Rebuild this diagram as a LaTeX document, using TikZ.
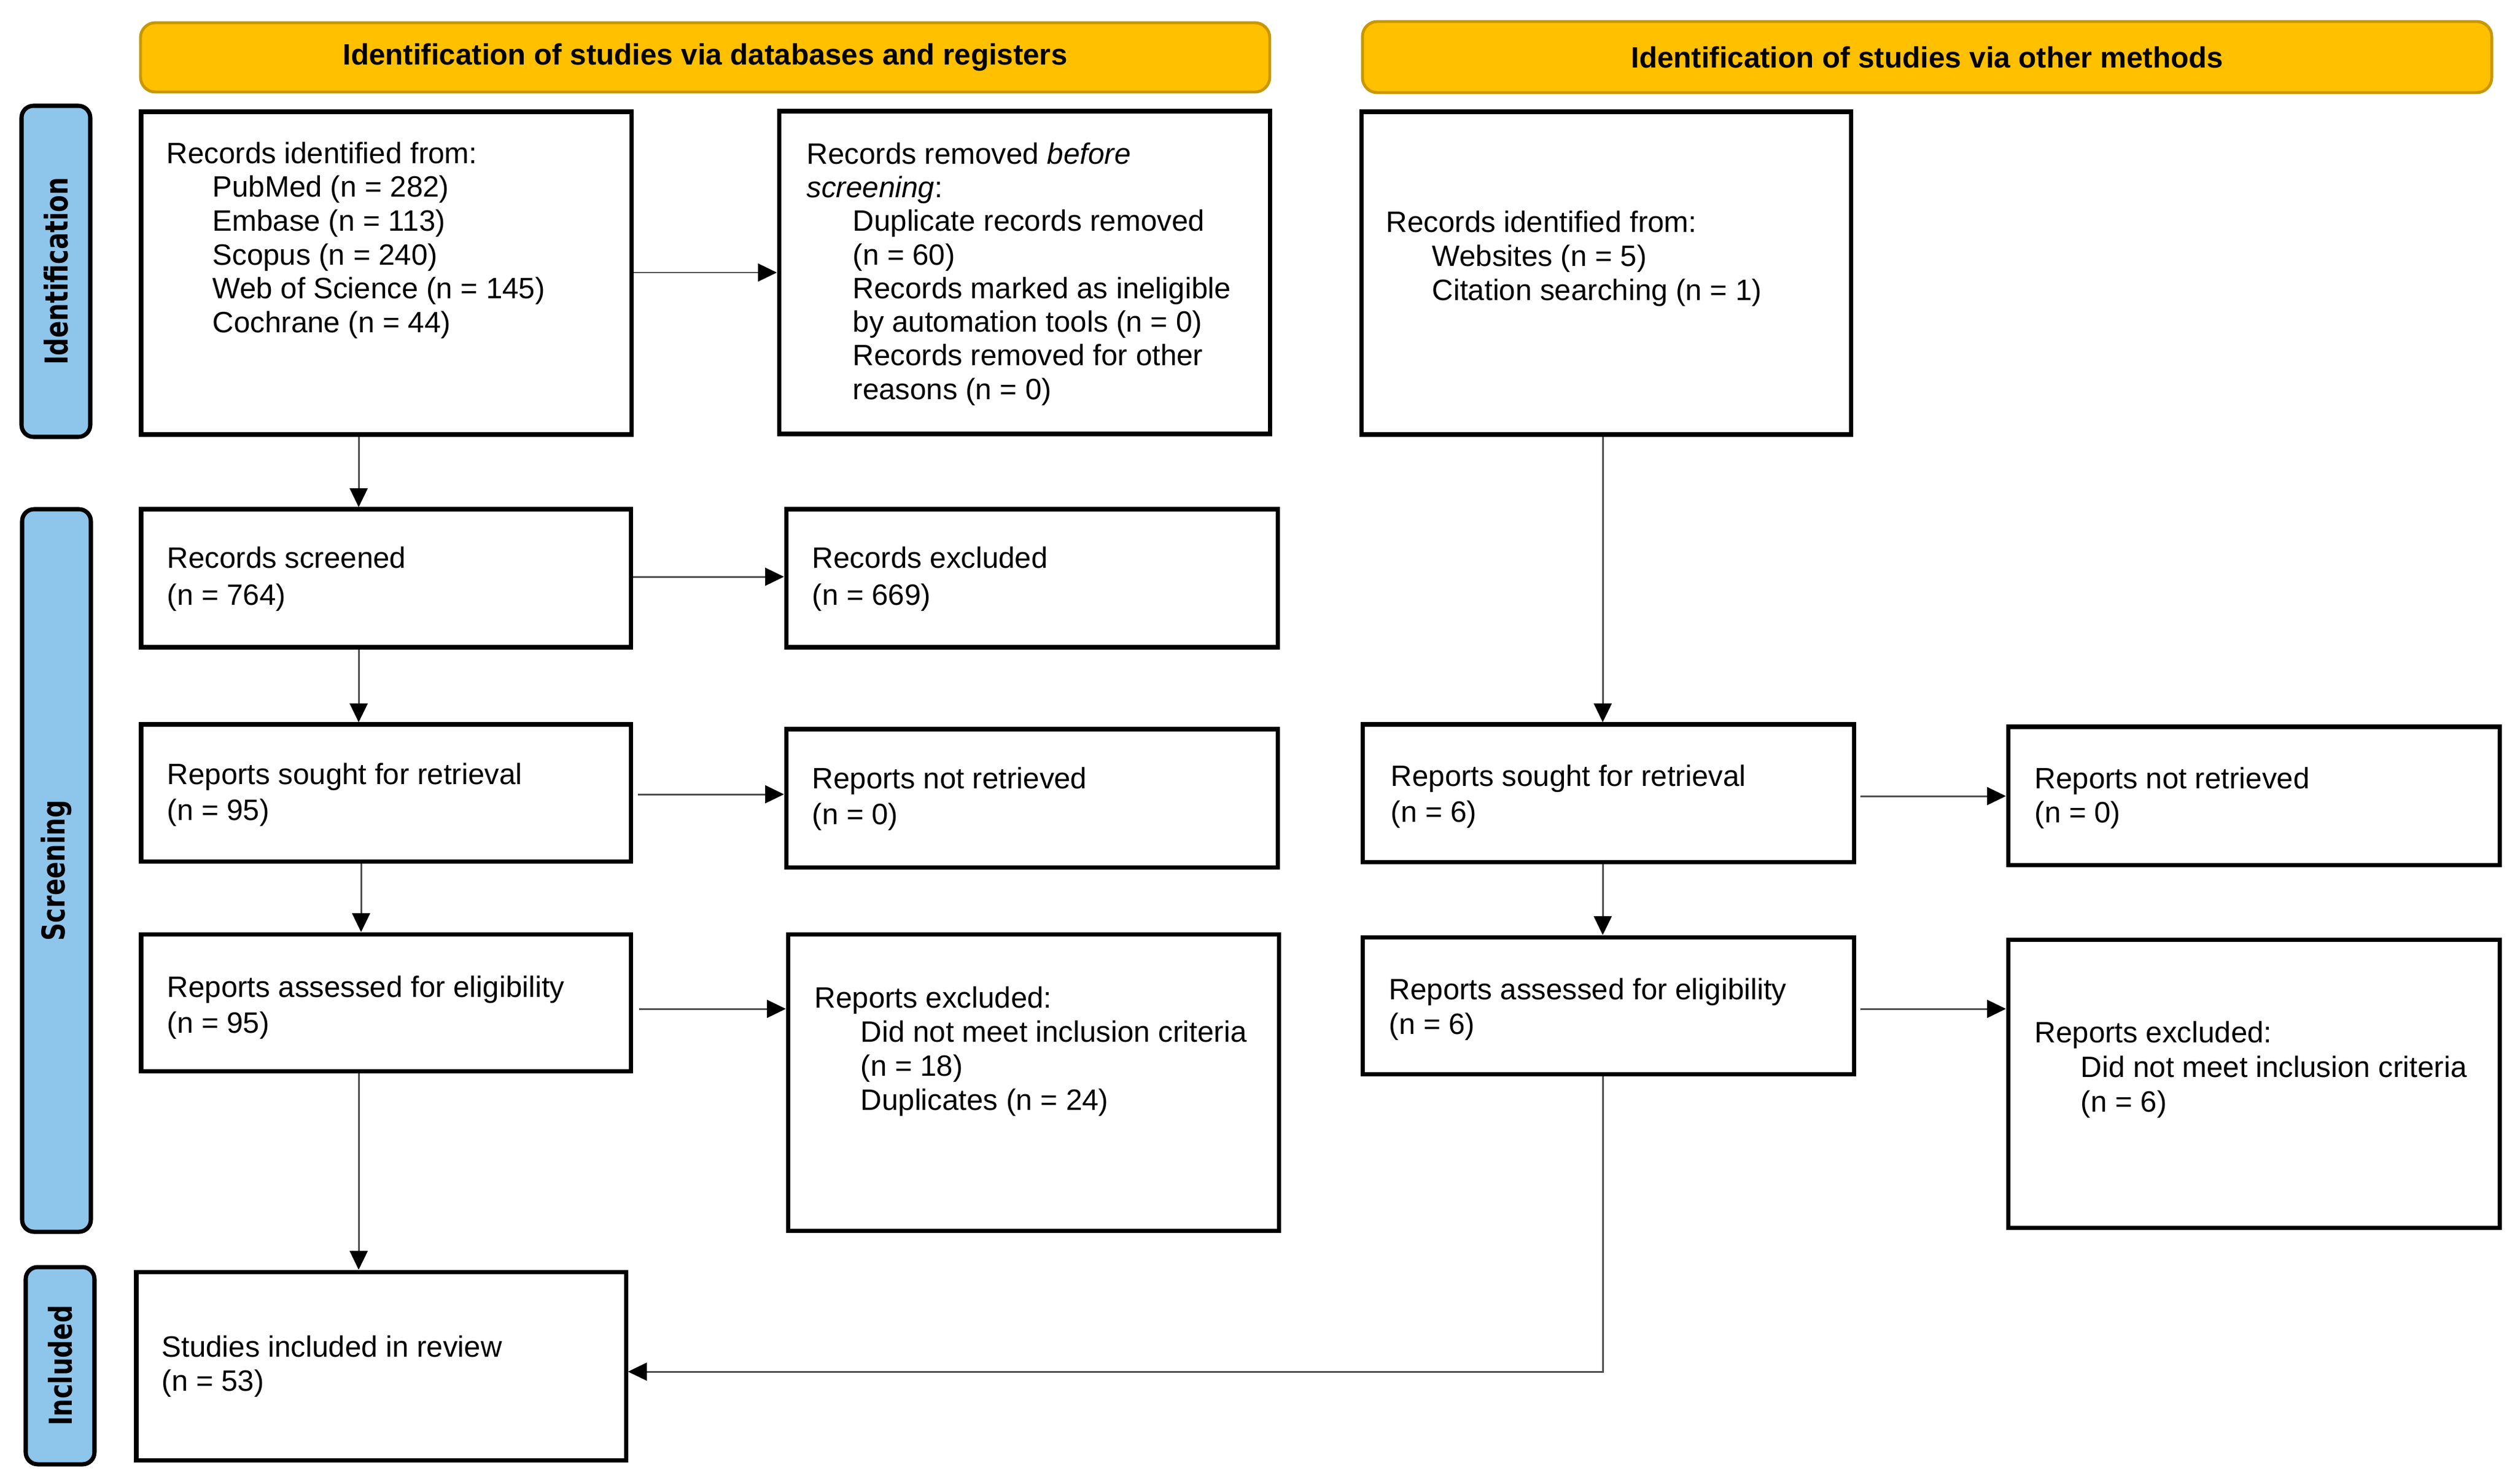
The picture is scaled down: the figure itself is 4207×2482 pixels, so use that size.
\documentclass[tikz,border=0pt]{standalone}
\usepackage{fontspec}
\setmainfont{Liberation Sans}
\newfontfamily\vfont{DejaVu Sans}
\usepackage{graphicx}
\usetikzlibrary{arrows.meta,fit}
\definecolor{gold}{HTML}{FFC000}
\definecolor{goldline}{HTML}{C99700}
\definecolor{sideblue}{HTML}{8EC5EB}
\definecolor{arrowgray}{HTML}{505050}
\newcommand\fsz[1]{\fontsize{14}{#1}\selectfont}
\newcommand\ind{\hspace*{0.77cm}}
\begin{document}
\begin{tikzpicture}[x=0.01cm,y=-0.01cm,
  box/.style={draw=black, line width=2pt, fill=white, inner sep=0pt},
  head/.style={draw=goldline, fill=gold, line width=1.4pt, rounded corners=0.25cm, inner sep=0pt},
  side/.style={draw=black, fill=sideblue, line width=2pt, rounded corners=0.2cm, inner sep=0pt},
  sidetxt/.style={rotate=90, inner sep=0pt, font={\vfont\bfseries\fontsize{15}{18}\selectfont}},
  headtxt/.style={inner sep=0pt, font={\bfseries\fontsize{14}{17}\selectfont}},
  txt/.style={anchor=north west, inner sep=0pt, align=left},
  flow/.style={draw=arrowgray, line width=0.85pt, -{Triangle[length=9pt,width=8.5pt,color=black]}}]
\path[use as bounding box, fill=white] (0,0) rectangle (4207,2482);

% headers
\node[head, fit={(235,38) (2124,154)}] (h1) {};
\node[headtxt] (h1t) at (h1.center) {Identification of studies via databases and registers};
\node[head, fit={(2279,36) (4168,155)}] (h2) {};
\node[headtxt] (h2t) at (h2.center) {Identification of studies via other methods};

% side labels
\node[side, fit={(36,177) (151,731)}] (s1) {};
\node[sidetxt] (s1t) at (s1.center) {\scalebox{0.79}[1]{Identification}};
\node[side, fit={(37,852) (152,2061)}] (s2) {};
\node[sidetxt] (s2t) at (s2.center) {\scalebox{0.79}[1]{Screening}};
\node[side, fit={(43,2120) (158,2450)}] (s3) {};
\node[sidetxt] (s3t) at (s3.center) {\scalebox{0.79}[1]{Included}};

% boxes
\node[box, fit={(236,187) (1056,727)}] (b1) {};
\node[box, fit={(1303,186) (2124,726)}] (b2) {};
\node[box, fit={(2277,187) (3096,727)}] (b3) {};
\node[box, fit={(236,852) (1055,1083)}] (b4) {};
\node[box, fit={(1315,852) (2137,1083)}] (b5) {};
\node[box, fit={(236,1212) (1055,1441)}] (b6) {};
\node[box, fit={(1315,1220) (2137,1451)}] (b7) {};
\node[box, fit={(236,1563) (1055,1792)}] (b8) {};
\node[box, fit={(1318,1563) (2139,2059)}] (b9) {};
\node[box, fit={(228,2128) (1047,2443)}] (b10) {};
\node[box, fit={(2279,1212) (3101,1442)}] (b11) {};
\node[box, fit={(3359,1216) (4181,1447)}] (b12) {};
\node[box, fit={(2279,1568) (3101,1797)}] (b13) {};
\node[box, fit={(3359,1572) (4181,2054)}] (b14) {};

% texts
\node[txt, font=\fsz{16.1}] (t1) at (278,237) {Records identified from:\\
\ind PubMed (n = 282)\\
\ind Embase (n = 113)\\
\ind Scopus (n = 240)\\
\ind Web of Science (n = 145)\\
\ind Cochrane (n = 44)};
\node[txt, font=\fsz{16.0}] (t2) at (1349,238) {Records removed \textit{before}\\
\textit{screening}:\\
\ind Duplicate records removed\\
\ind (n = 60)\\
\ind Records marked as ineligible\\
\ind by automation tools (n = 0)\\
\ind Records removed for other\\
\ind reasons (n = 0)};
\node[txt, font=\fsz{16.2}] (t3) at (2318,352) {Records identified from:\\
\ind Websites (n = 5)\\
\ind Citation searching (n = 1)};
\node[txt, font=\fsz{17.6}] (t4) at (279,914) {Records screened\\(n = 764)};
\node[txt, font=\fsz{17.6}] (t5) at (1358,914) {Records excluded\\(n = 669)};
\node[txt, font=\fsz{17.1}] (t6) at (279,1276) {Reports sought for retrieval\\(n = 95)};
\node[txt, font=\fsz{17.1}] (t7) at (1358,1283) {Reports not retrieved\\(n = 0)};
\node[txt, font=\fsz{17.1}] (t8) at (279,1632) {Reports assessed for eligibility\\(n = 95)};
\node[txt, font=\fsz{16.2}] (t9) at (1362,1650) {Reports excluded:\\
\ind Did not meet inclusion criteria\\
\ind (n = 18)\\
\ind Duplicates (n = 24)};
\node[txt, font=\fsz{16.2}] (t10) at (270,2234) {Studies included in review\\(n = 53)};
\node[txt, font=\fsz{17.1}] (t11) at (2326,1279) {Reports sought for retrieval\\(n = 6)};
\node[txt, font=\fsz{16.2}] (t12) at (3403,1283) {Reports not retrieved\\(n = 0)};
\node[txt, font=\fsz{16.5}] (t13) at (2323,1636) {Reports assessed for eligibility\\(n = 6)};
\node[txt, font=\fsz{16.5}] (t14) at (3403,1708) {Reports excluded:\\
\ind Did not meet inclusion criteria\\
\ind (n = 6)};

% connector guides
\coordinate (cL) at (600,0);
\coordinate (cL2) at (604,0);
\coordinate (cR) at (2681,0);
\coordinate (r1) at (0,456);
\coordinate (r2) at (0,965);
\coordinate (r3) at (0,1329);
\coordinate (r4) at (0,1688);
\coordinate (r5) at (0,1332);
\coordinate (r6) at (0,2295);

% connectors
\draw[flow] (b1.east |- r1) -- (b2.west |- r1);
\draw[flow] (b1.south -| cL) -- (b4.north -| cL);
\draw[flow] (b4.east |- r2) -- (b5.west |- r2);
\draw[flow] (b4.south -| cL) -- (b6.north -| cL);
\draw[flow, shorten <=2.5pt] (b6.east |- r3) -- (b7.west |- r3);
\draw[flow] (b6.south -| cL2) -- (b8.north -| cL2);
\draw[flow, shorten <=3pt] (b8.east |- r4) -- (b9.west |- r4);
\draw[flow] (b8.south -| cL) -- (b10.north -| cL);
\draw[flow] (b3.south -| cR) -- (b11.north -| cR);
\draw[flow, shorten <=2pt] (b11.east |- r5) -- (b12.west |- r5);
\draw[flow] (b11.south -| cR) -- (b13.north -| cR);
\draw[flow, shorten <=2pt] (b13.east |- r4) -- (b14.west |- r4);
\draw[flow] (b13.south -| cR) |- (b10.east |- r6);
\end{tikzpicture}
\end{document}
